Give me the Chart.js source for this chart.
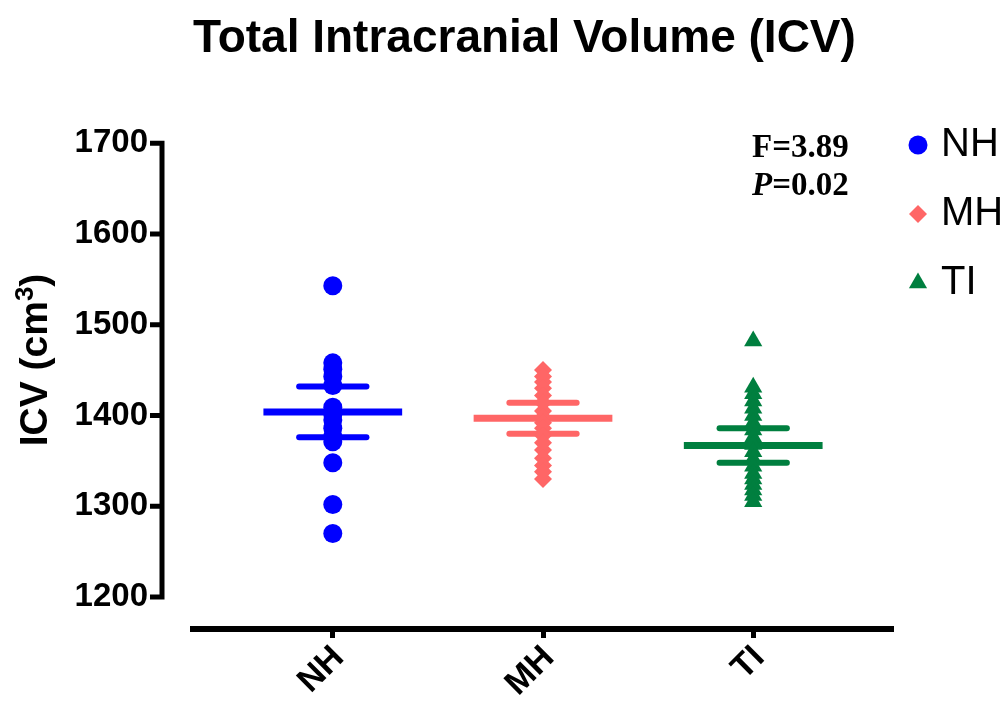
<!DOCTYPE html>
<html>
<head>
<meta charset="utf-8">
<title>Total Intracranial Volume (ICV)</title>
<script src="https://cdn.jsdelivr.net/npm/chart.js@4.4.0/dist/chart.umd.min.js"></script>
<style>
  html, body { margin: 0; padding: 0; background: #fff; }
  #wrap { width: 1006px; height: 704px; }
</style>
</head>
<body>
<div id="wrap"><canvas id="icvChart" width="1006" height="704"></canvas></div>
<script>
// groups along the x axis
const groups = ['NH', 'MH', 'TI'];
const groupColors = ['#0000ff', '#ff6666', '#007f3f'];
const groupShapes = ['circle', 'rectRot', 'triangle'];
const groupRadius = [9.5, 9, 10.5];

// ICV per subject (cm3)
const nhValues = [1543, 1458, 1451, 1443, 1433, 1409, 1401, 1395, 1386, 1377, 1371, 1348, 1302, 1270];
const mhValues = [1450, 1443, 1437, 1430, 1422, 1414, 1405, 1398, 1392, 1386, 1378, 1370, 1362, 1353, 1345, 1338, 1330];
const tiValues = [1482, 1431, 1424, 1416, 1408, 1400, 1392, 1384, 1376, 1368, 1360, 1352, 1344, 1336, 1330, 1324, 1318, 1312, 1305];

// mean line and error bar half-height per group
const groupMeans = [1404, 1397, 1367];
const groupErrors = [28, 17, 19];

const yTicks = [1200, 1300, 1400, 1500, 1600, 1700];
const fStat = '3.89';
const pValue = '0.02';

Chart.defaults.font.family = '"Liberation Sans", Arial, sans-serif';
Chart.defaults.color = '#000';

const meanHalf = 0.33;
const errHalf = 0.16;

const datasets = [];
[nhValues, mhValues, tiValues].forEach((vals, i) => {
    datasets.push({
        type: 'scatter',
        label: groups[i],
        data: vals.map(v => ({ x: i, y: v })),
        pointStyle: groupShapes[i],
        pointRadius: groupRadius[i],
        backgroundColor: groupColors[i],
        borderColor: groupColors[i],
        borderWidth: 0
    });
});
groups.forEach((g, i) => {
    const m = groupMeans[i];
    const e = groupErrors[i];
    // mean
    datasets.push({
        type: 'line', label: g + ' mean',
        data: [{ x: i - meanHalf, y: m }, { x: i + meanHalf, y: m }],
        borderColor: groupColors[i], borderWidth: 7, pointRadius: 0, borderCapStyle: 'butt'
    });
    // upper / lower error
    [m + e, m - e].forEach(v => {
        datasets.push({
            type: 'line', label: g + ' err',
            data: [{ x: i - errHalf, y: v }, { x: i + errHalf, y: v }],
            borderColor: groupColors[i], borderWidth: 6, pointRadius: 0, borderCapStyle: 'round'
        });
    });
});

// y axis line, y title, legend and stats text
const framePlugin = {
    id: 'frame',
    afterDraw(chart) {
        const { ctx, chartArea, scales: { y } } = chart;
        const axisX = chartArea.left - 31;
        ctx.save();
        ctx.strokeStyle = '#000';
        ctx.lineWidth = 5;
        ctx.beginPath();
        ctx.moveTo(axisX, y.getPixelForValue(yTicks[yTicks.length - 1]) - 2.5);
        ctx.lineTo(axisX, y.getPixelForValue(yTicks[0]) + 2.5);
        yTicks.forEach(v => {
            const py = y.getPixelForValue(v);
            ctx.moveTo(axisX - 12, py);
            ctx.lineTo(axisX, py);
        });
        ctx.stroke();

        // y title with superscript
        ctx.translate(33, 360);
        ctx.rotate(-Math.PI / 2);
        ctx.fillStyle = '#000';
        const big = 'bold 39px "Liberation Sans", Arial, sans-serif';
        const small = 'bold 26px "Liberation Sans", Arial, sans-serif';
        ctx.font = big;
        const w1 = ctx.measureText('ICV (cm').width;
        const w3 = ctx.measureText(')').width;
        ctx.font = small;
        const w2 = ctx.measureText('3').width;
        let tx = -(w1 + w2 + w3) / 2;
        ctx.textBaseline = 'alphabetic';
        ctx.font = big;
        ctx.fillText('ICV (cm', tx, 14);
        tx += w1;
        ctx.font = small;
        ctx.fillText('3', tx, 0);
        tx += w2;
        ctx.font = big;
        ctx.fillText(')', tx, 14);
        ctx.restore();

        // legend
        ctx.save();
        groups.forEach((g, i) => {
            const ds = chart.data.datasets[i];
            const cy = 144 + i * 69;
            ctx.fillStyle = ds.backgroundColor;
            ctx.strokeStyle = ds.borderColor;
            Chart.helpers.drawPoint(ctx, { pointStyle: ds.pointStyle, radius: ds.pointRadius, rotation: 0, borderWidth: 0 }, 918, cy + 1);
            ctx.fillStyle = '#000';
            ctx.font = '40px "Liberation Sans", Arial, sans-serif';
            ctx.textBaseline = 'middle';
            ctx.fillText(g, 941, cy + 1);
        });

        // F / P stats
        ctx.textBaseline = 'alphabetic';
        ctx.font = 'bold 33px "Liberation Serif", serif';
        ctx.fillText('F=' + fStat, 752, 157);
        ctx.font = 'italic bold 33px "Liberation Serif", serif';
        ctx.fillText('P', 752, 195);
        const pw = ctx.measureText('P').width;
        ctx.font = 'bold 33px "Liberation Serif", serif';
        ctx.fillText('=' + pValue, 752 + pw, 195);
        ctx.restore();
    }
};

new Chart(document.getElementById('icvChart'), {
    type: 'scatter',
    data: { datasets },
    options: {
        responsive: false,
        devicePixelRatio: 1,
        animation: false,
        layout: { padding: { left: 0, right: 113, top: 0, bottom: 0 } },
        plugins: {
            legend: { display: false },
            tooltip: { enabled: false },
            title: {
                display: true,
                text: 'Total Intracranial Volume (ICV)',
                align: 'start',
                fullSize: false,
                color: '#000',
                font: { size: 46, weight: 'bold' },
                padding: { top: 12, bottom: 76 }
            }
        },
        scales: {
            x: {
                type: 'linear',
                min: -0.665,
                max: 2.665,
                afterBuildTicks: (scale) => { scale.ticks = groups.map((g, i) => ({ value: i })); },
                afterFit: (scale) => { scale.height = 75; },
                ticks: {
                    autoSkip: false,
                    minRotation: 45,
                    maxRotation: 45,
                    padding: 0,
                    labelOffset: 6,
                    font: { size: 34, weight: 'bold' },
                    callback: (v) => groups[v]
                },
                grid: {
                    display: true,
                    drawOnChartArea: false,
                    drawTicks: true,
                    tickLength: 9,
                    tickWidth: 5,
                    tickColor: '#000'
                },
                border: { display: true, width: 6, color: '#000' }
            },
            y: {
                min: 1164.8,
                max: 1700,
                afterBuildTicks: (scale) => { scale.ticks = yTicks.map(v => ({ value: v })); },
                afterFit: (scale) => { scale.width = 193; },
                ticks: {
                    padding: 45,
                    font: { size: 33, weight: 'bold' },
                    callback: (v) => String(v)
                },
                grid: { display: false, drawTicks: false },
                border: { display: false }
            }
        }
    },
    plugins: [framePlugin]
});
</script>
</body>
</html>
